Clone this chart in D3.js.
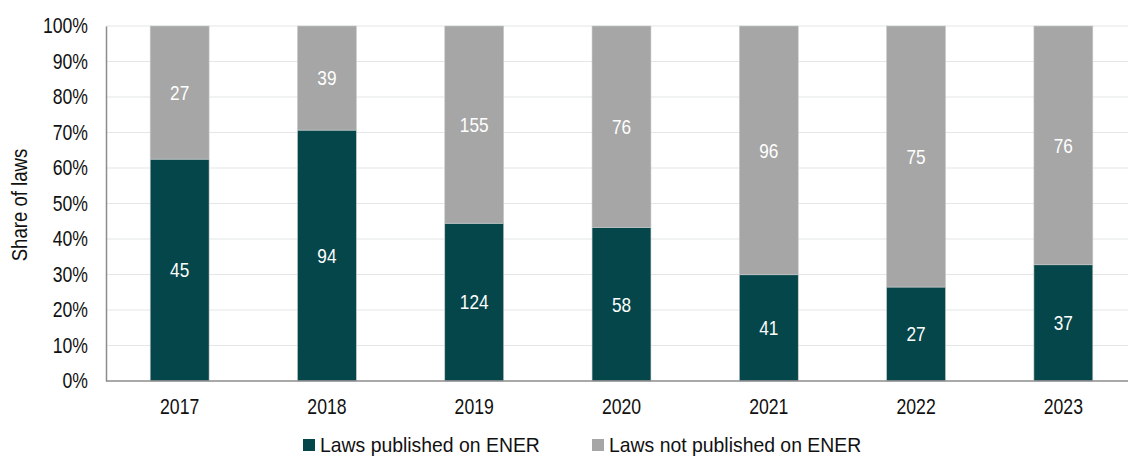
<!DOCTYPE html>
<html>
<head>
<meta charset="utf-8">
<script src="https://cdn.jsdelivr.net/npm/d3@7"></script>
<style>
  html, body { margin: 0; padding: 0; background: #fff; }
  svg { display: block; }
  text { font-family: "Liberation Sans", Arial, sans-serif; }
</style>
</head>
<body>
<svg id="chart" width="1128" height="458"></svg>
<script>
// Laws per year, split by whether they were published on ENER
const years = ["2017", "2018", "2019", "2020", "2021", "2022", "2023"];
const published = [45, 94, 124, 58, 41, 27, 37];
const notPublished = [27, 39, 155, 76, 96, 75, 76];
const seriesNames = ["Laws published on ENER", "Laws not published on ENER"];
const seriesColors = ["#05464b", "#a6a6a6"];
const yTicks = [0, 0.1, 0.2, 0.3, 0.4, 0.5, 0.6, 0.7, 0.8, 0.9, 1.0];

const NARROW = 0.82;   // horizontal squeeze for a narrow-face look
const FONT = 21.5;

const svg = d3.select("#chart");
const margin = { left: 106, top: 26, bottom: 381, right: 1137 };

const x = d3.scaleBand().domain(years).range([margin.left, margin.right]).paddingInner(0.6).paddingOuter(0.3);
const y = d3.scaleLinear().domain([0, 1]).range([margin.bottom, margin.top]);

// Turn the x/y of a text into a translate so it can be squeezed around its anchor
function condense(sel, extra = "", sx = NARROW) {
  sel.each(function () {
    const t = d3.select(this);
    const tx = +t.attr("x") || 0, ty = +t.attr("y") || 0;
    t.attr("x", 0).attr("y", 0)
     .attr("transform", `translate(${tx},${ty}) ${extra} scale(${sx},1)`);
  });
}

// Build stacked shares
const rows = years.map((yr, i) => ({ year: yr, pub: published[i], notPub: notPublished[i], total: published[i] + notPublished[i] }));
const stack = d3.stack().keys(["pub", "notPub"]).value((d, k) => d[k] / d.total);
const layers = stack(rows);

// Gridlines
svg.append("g")
  .selectAll("line")
  .data(yTicks.filter(t => t > 0))
  .join("line")
  .attr("x1", margin.left).attr("x2", 1128)
  .attr("y1", d => y(d)).attr("y2", d => y(d))
  .attr("stroke", "#e3e7e8").attr("stroke-width", 1.2);

// Bars
const layerG = svg.append("g").selectAll("g").data(layers).join("g")
  .attr("fill", (d, i) => seriesColors[i]);

layerG.selectAll("rect")
  .data(d => d)
  .join("rect")
  .attr("x", d => x(d.data.year))
  .attr("width", x.bandwidth())
  .attr("y", d => y(d[1]))
  .attr("height", d => y(d[0]) - y(d[1]))
  .attr("stroke", "#c8cccc")
  .attr("stroke-width", 0.6);

// Value labels, centered in each segment
layers.forEach((layer, li) => {
  svg.append("g").selectAll("text")
    .data(layer)
    .join("text")
    .attr("x", d => x(d.data.year) + x.bandwidth() / 2)
    .attr("y", d => (y(d[0]) + y(d[1])) / 2)
    .attr("dy", "0.35em")
    .attr("text-anchor", "middle")
    .attr("fill", "#ffffff")
    .attr("font-size", 21)
    .text(d => li === 0 ? d.data.pub : d.data.notPub)
    .call(condense);
});

// Y axis
const yAxis = svg.append("g")
  .attr("transform", `translate(${margin.left},0)`)
  .call(d3.axisLeft(y).tickValues(yTicks).tickFormat(d3.format(".0%")).tickSize(0).tickPadding(18));
yAxis.select(".domain").attr("stroke", "#8c8c8c").attr("stroke-width", 1.5);
yAxis.selectAll("text").attr("font-size", FONT).attr("fill", "#111").call(condense);

// X axis
const xAxis = svg.append("g")
  .attr("transform", `translate(0,${margin.bottom})`)
  .call(d3.axisBottom(x).tickSize(0).tickPadding(18));
xAxis.select(".domain").attr("stroke", "#8c8c8c").attr("stroke-width", 1.5).attr("d", `M${margin.left},0H1128`);
xAxis.selectAll("text").attr("font-size", FONT).attr("fill", "#111").call(condense);

// Y axis title
svg.append("text")
  .attr("x", 27).attr("y", 205)
  .attr("text-anchor", "middle")
  .attr("font-size", FONT)
  .attr("fill", "#111")
  .text("Share of laws")
  .call(condense, "rotate(-90)", 0.865);

// Legend
const legendX = [303, 592];
const legend = svg.append("g").selectAll("g").data(seriesNames).join("g")
  .attr("transform", (d, i) => `translate(${legendX[i]},439)`);
legend.append("rect").attr("width", 12).attr("height", 12).attr("fill", (d, i) => seriesColors[i]);
legend.append("text")
  .attr("x", 17).attr("y", 6).attr("dy", "0.35em")
  .attr("font-size", 20).attr("fill", "#111")
  .text(d => d)
  .call(condense, "", 0.97);
</script>
</body>
</html>
